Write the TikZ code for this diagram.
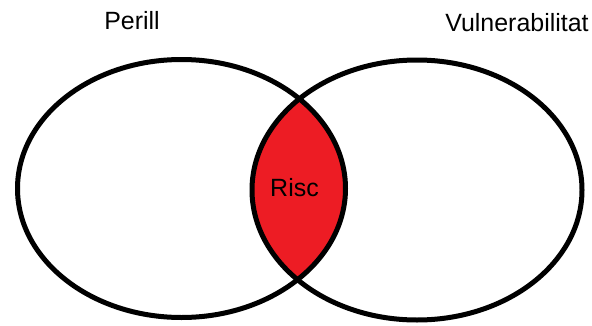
\documentclass[tikz,border=0pt]{standalone}
\usepackage{fontspec}
\setmainfont{Liberation Sans}
\usepackage{tikz}
\usetikzlibrary{positioning}
\definecolor{RiscRed}{HTML}{ED1C24}

\begin{document}
\begin{tikzpicture}[
  x=0.02cm,y=-0.02cm,
  setline/.style={draw=black,line width=0.1cm},
  setlabel/.style={font=\fontsize{14.2}{17}\selectfont,inner sep=0pt,text=black},
  lens/.style={fill=RiscRed}
]
\useasboundingbox[fill=white] (0,0) rectangle (592,325);
% intersection first, then both outlines on top
\begin{scope}
  \clip (181.5,188.5) ellipse [x radius=164,y radius=129];
  \path[lens] (417,190) ellipse [x radius=165,y radius=130];
\end{scope}
\draw[setline] (181.5,188.5) ellipse [x radius=164,y radius=129];
\draw[setline] (417,190) ellipse [x radius=165,y radius=130];
\node[setlabel] (perill) at (132,21) {Perill};
\node[setlabel] (vuln) at (517,23) {Vulnerabilitat};
\node[setlabel] (risc) at (294.5,188) {Risc};
\end{tikzpicture}
\end{document}
